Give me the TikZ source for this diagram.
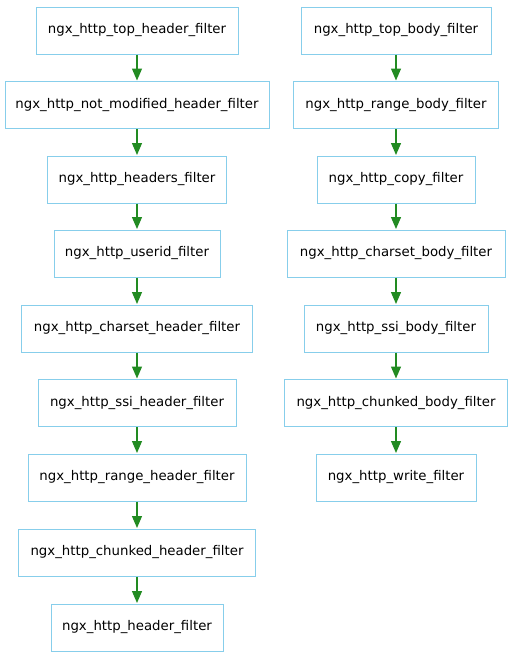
\documentclass[tikz,border=0pt]{standalone}
\usepackage{fontspec}
\setmainfont{DejaVu Sans}
\usetikzlibrary{arrows.meta}
\definecolor{boxblue}{RGB}{135,206,235}
\definecolor{arrowgreen}{RGB}{34,139,34}
\tikzset{
  fbox/.style={draw=boxblue, line width=1pt, fill=white, inner sep=0pt, minimum height=47pt, font=\fontsize{13.3}{16}\selectfont},
  flow/.style={draw=arrowgreen, line width=1.3pt, -{Triangle[length=12pt,width=10pt]}, shorten >=0.5pt}
}
\begin{document}
\begin{tikzpicture}[x=1pt,y=-1pt]
\useasboundingbox (0,0) rectangle (512,659);
% left column
\node[fbox, minimum width=202pt] (l1) at (137,30.5) {ngx\_http\_top\_header\_filter};
\node[fbox, minimum width=264pt] (l2) at (137,105) {ngx\_http\_not\_modified\_header\_filter};
\node[fbox, minimum width=179pt] (l3) at (137,179.5) {ngx\_http\_headers\_filter};
\node[fbox, minimum width=166pt] (l4) at (137,253.5) {ngx\_http\_userid\_filter};
\node[fbox, minimum width=231pt] (l5) at (137,328.5) {ngx\_http\_charset\_header\_filter};
\node[fbox, minimum width=198pt] (l6) at (137,403) {ngx\_http\_ssi\_header\_filter};
\node[fbox, minimum width=218pt] (l7) at (137,477.5) {ngx\_http\_range\_header\_filter};
\node[fbox, minimum width=237pt] (l8) at (137,552.5) {ngx\_http\_chunked\_header\_filter};
\node[fbox, minimum width=172pt] (l9) at (137,627.5) {ngx\_http\_header\_filter};
% right column
\node[fbox, minimum width=190pt] (r1) at (396,30.5) {ngx\_http\_top\_body\_filter};
\node[fbox, minimum width=205pt] (r2) at (396,105) {ngx\_http\_range\_body\_filter};
\node[fbox, minimum width=158pt] (r3) at (396,179.5) {ngx\_http\_copy\_filter};
\node[fbox, minimum width=218pt] (r4) at (396,253.5) {ngx\_http\_charset\_body\_filter};
\node[fbox, minimum width=184pt] (r5) at (396,328.5) {ngx\_http\_ssi\_body\_filter};
\node[fbox, minimum width=223pt] (r6) at (396,403) {ngx\_http\_chunked\_body\_filter};
\node[fbox, minimum width=160pt] (r7) at (396,477.5) {ngx\_http\_write\_filter};
% connectors
\foreach \a/\b in {l1/l2,l2/l3,l3/l4,l4/l5,l5/l6,l6/l7,l7/l8,l8/l9,r1/r2,r2/r3,r3/r4,r4/r5,r5/r6,r6/r7}
  \draw[flow] (\a) -- (\b);
\end{tikzpicture}
\end{document}
